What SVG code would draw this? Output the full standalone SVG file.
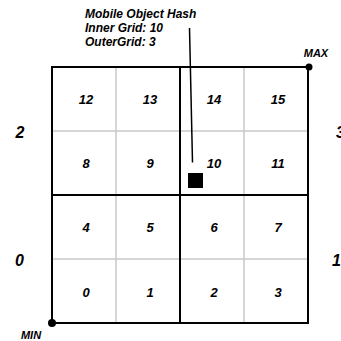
<svg xmlns="http://www.w3.org/2000/svg" width="341" height="341" viewBox="0 0 341 341">
<style>
text{font-family:"Liberation Sans",Arial,sans-serif;font-weight:bold;font-style:italic;fill:#000}
.cell{font-size:13px;text-anchor:middle}
.outer{font-size:16px}
.lbl{font-size:12px}
.corner{font-size:11px}
.thin{stroke:#c8c8c8;stroke-width:1.5;fill:none}
.thick{stroke:#000;stroke-width:2;fill:none}
</style>
<rect width="341" height="341" fill="#fff"/>
<g id="grid">
<line class="thin" x1="116" y1="67" x2="116" y2="323"/>
<line class="thin" x1="244" y1="67" x2="244" y2="323"/>
<line class="thin" x1="52" y1="131" x2="308" y2="131"/>
<line class="thin" x1="52" y1="259" x2="308" y2="259"/>
<line class="thick" x1="180" y1="67" x2="180" y2="323"/>
<line class="thick" x1="52" y1="195" x2="308" y2="195"/>
<rect class="thick" x="52" y="67" width="256" height="256"/>
</g>
<g id="cells">
<text class="cell" x="86" y="104">12</text>
<text class="cell" x="150" y="104">13</text>
<text class="cell" x="214" y="104">14</text>
<text class="cell" x="278" y="104">15</text>
<text class="cell" x="86" y="168">8</text>
<text class="cell" x="150" y="168">9</text>
<text class="cell" x="214" y="168">10</text>
<text class="cell" x="278" y="168">11</text>
<text class="cell" x="86" y="232">4</text>
<text class="cell" x="150" y="232">5</text>
<text class="cell" x="214" y="232">6</text>
<text class="cell" x="278" y="232">7</text>
<text class="cell" x="86" y="297">0</text>
<text class="cell" x="150" y="297">1</text>
<text class="cell" x="214" y="297">2</text>
<text class="cell" x="278" y="297">3</text>
</g>
<g id="outer-labels">
<text class="outer" x="20" y="138" text-anchor="middle">2</text>
<text class="outer" x="19.5" y="266" text-anchor="middle">0</text>
<text class="outer" x="336" y="138">3</text>
<text class="outer" x="332" y="266">1</text>
</g>
<g id="max">
<circle cx="309" cy="67" r="3.5" fill="#000"/>
<text class="corner" x="316" y="57" text-anchor="middle">MAX</text>
</g>
<g id="min">
<circle cx="52" cy="323" r="4" fill="#000"/>
<text class="corner" x="31" y="339" text-anchor="middle">MIN</text>
</g>
<g id="object">
<rect x="188" y="173" width="15" height="15" fill="#000"/>
</g>
<g id="hash-label">
<text class="lbl" x="85" y="18">Mobile Object Hash</text>
<text class="lbl" x="85" y="32">Inner Grid: 10</text>
<text class="lbl" x="85" y="46">OuterGrid: 3</text>
</g>
<g id="connectors">
<line x1="189.5" y1="28" x2="192.5" y2="162.5" stroke="#000" stroke-width="1.5"/>
</g>
</svg>
